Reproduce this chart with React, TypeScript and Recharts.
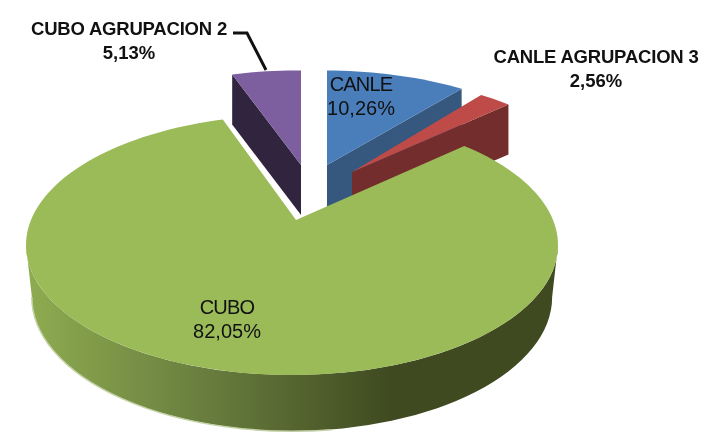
import React from "react";
import { PieChart, Pie } from "recharts";

const categories = ["CANLE", "CANLE AGRUPACION 3", "CUBO", "CUBO AGRUPACION 2"];
const counts = [4, 1, 32, 2];
const rows = categories.map((name, i) => ({ name, value: counts[i] }));

const topColors: Record<string, string> = {
  CANLE: "#4A7EBB",
  "CANLE AGRUPACION 3": "#BE4B48",
  CUBO: "#9BBB59",
  "CUBO AGRUPACION 2": "#7D5FA0",
};
const wallColors: Record<string, string> = {
  CANLE: "#36587F",
  "CANLE AGRUPACION 3": "#722D2C",
  CUBO: "#3F4A20",
  "CUBO AGRUPACION 2": "#30243F",
};
// explode offset (px on screen) and perspective shrink of pulled-out slices
const explode: Record<string, [number, number, number, number]> = {
  CANLE: [31, -55, 0.97, 0.9],
  "CANLE AGRUPACION 3": [56, -48, 0.93, 0.91],
  CUBO: [0, 0, 1, 1],
  "CUBO AGRUPACION 2": [5, -55, 0.94, 0.9],
};
const DEPTH = 50;
const FONT = "'Liberation Sans', Arial, sans-serif";
const CENTER_DX = -4;
const CENTER_DY = 25;

// ray from apex (0,0) clockwise-from-up angle t (deg) to the tilted rim ellipse
function rim(t: number, R: number) {
  const rad = (t * Math.PI) / 180;
  const dx = Math.sin(rad) * 2.18;
  const dy = -Math.cos(rad);
  const ex = CENTER_DX, ey = CENTER_DY, rx = R, ry = R * 0.489;
  const a = (dx * dx) / (rx * rx) + (dy * dy) / (ry * ry);
  const b = 2 * ((dx * -ex) / (rx * rx) + (dy * -ey) / (ry * ry));
  const c = (ex * ex) / (rx * rx) + (ey * ey) / (ry * ry) - 1;
  const s = (-b + Math.sqrt(b * b - 4 * a * c)) / (2 * a);
  return [dx * s, dy * s];
}

function Slice(props: any) {
  const { cx, cy, outerRadius: R, startAngle, endAngle, name } = props;
  const [ox, oy, kx, ky] = explode[name];
  const t0 = 90 - startAngle;
  const t1 = 90 - endAngle;
  const ax = cx + ox, ay = cy + oy;
  const P = (t: number) => {
    const [x, y] = rim(t, R);
    return [ax + x * kx, ay + y * ky];
  };
  const pts: number[][] = [];
  const n = Math.max(4, Math.ceil((t1 - t0) / 2));
  for (let i = 0; i <= n; i++) pts.push(P(t0 + ((t1 - t0) * i) / n));
  const top = `M${ax},${ay}L` + pts.map((p) => p.join(",")).join("L") + "Z";
  const wall = (p: number[]) =>
    `M${ax},${ay}L${p[0]},${p[1]}L${p[0]},${p[1] + DEPTH}L${ax},${ay + DEPTH}Z`;
  const isBig = t1 - t0 > 180;
  let side = "", lower = "";
  if (isBig) {
    const ex = cx + CENTER_DX, ey = cy + CENTER_DY, rx = R, ry = R * 0.489;
    const lx = rx * 0.978, ly = ry * 1.03, ly0 = ey + 52;
    side = `M${ex - rx},${ey}A${rx},${ry} 0 0 0 ${ex + rx},${ey}L${ex + lx},${ly0}A${lx},${ly} 0 0 1 ${ex - lx},${ly0}Z`;
    lower = `M${ex - lx},${ly0}A${lx},${ly} 0 0 0 ${ex + 40},${ly0 + ly * 0.99}`;
  }
  return (
    <g>
      {isBig && (
        <defs>
          <linearGradient id="greenSide" gradientUnits="userSpaceOnUse" x1={cx - R} y1="0" x2={cx + 96} y2="0">
            <stop offset="0" stopColor="#8EAB50" />
            <stop offset="0.45" stopColor="#6B8140" />
            <stop offset="1" stopColor="#3F4A20" />
          </linearGradient>
        </defs>
      )}
      {isBig && <path d={side} fill="url(#greenSide)" />}
      {isBig && <path d={lower} fill="none" stroke="#C3D1A6" strokeWidth={1.5} />}
      {!isBig && t1 < 90 && <path d={wall(pts[pts.length - 1])} fill={wallColors[name]} />}
      {!isBig && t0 > 270 && <path d={wall(pts[0])} fill={wallColors[name]} />}
      <path d={top} fill={topColors[name]} />
    </g>
  );
}

const labelSpots: Record<string, [number, number, number, boolean]> = {
  CANLE: [361, 91, 20, false],
  "CANLE AGRUPACION 3": [596, 63, 18.5, true],
  CUBO: [227, 314, 20, false],
  "CUBO AGRUPACION 2": [129, 35, 18.5, true],
};

function Label(props: any) {
  const { name, percent } = props;
  const [x, y, size, strong] = labelSpots[name];
  const pct = (percent * 100).toFixed(2).replace(".", ",") + "%";
  return (
    <g>
      {name === "CUBO AGRUPACION 2" && (
        <path d="M233,33L247,33L266,70" fill="none" stroke="#111" strokeWidth={3} />
      )}
      <text x={x} y={y} textAnchor="middle" fontFamily={FONT} fontSize={size} fontWeight={strong ? 700 : 400} fill="#111" letterSpacing={strong ? -0.2 : -0.8}>
        {name}
      </text>
      <text x={x} y={y + 24} textAnchor="middle" fontFamily={FONT} fontSize={size} fontWeight={strong ? 700 : 400} fill="#111">
        {pct}
      </text>
    </g>
  );
}

export default function App() {
  return (
    <div style={{ position: "absolute", left: 0, top: 0, width: 703, height: 434, background: "#fff", filter: "blur(0.4px)" }}>
      <PieChart width={703} height={434} margin={{ top: 0, right: 0, bottom: 0, left: 0 }}>
        <Pie
          data={rows}
          dataKey="value"
          nameKey="name"
          cx={296}
          cy={220}
          innerRadius={0}
          outerRadius={266}
          startAngle={90}
          endAngle={-270}
          stroke="none"
          isAnimationActive={false}
          shape={Slice}
          label={Label}
          labelLine={false}
        />
      </PieChart>
    </div>
  );
}
